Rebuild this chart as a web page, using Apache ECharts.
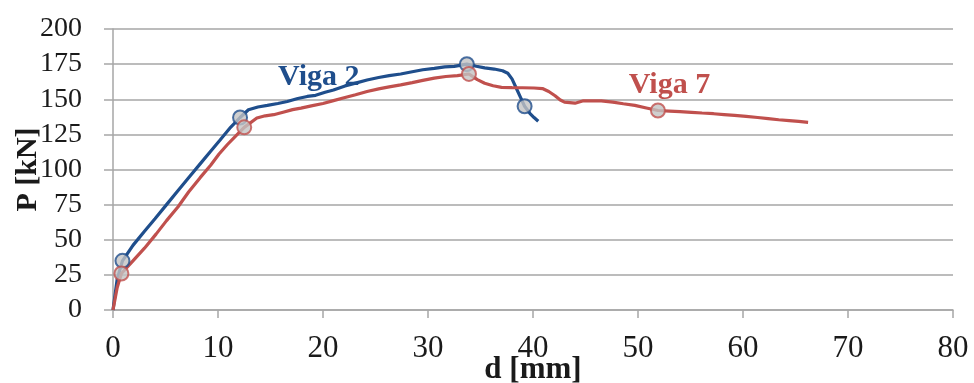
<!DOCTYPE html>
<html>
<head>
<meta charset="utf-8">
<script src="https://cdn.jsdelivr.net/npm/echarts@6/dist/echarts.min.js"></script>
<style>
  html, body { margin: 0; padding: 0; background: #fff; }
  #chart { width: 974px; height: 383px; }
</style>
</head>
<body>
<div id="chart"></div>
<script>
// d [mm], P [kN]
const viga2 = [
  [0, 0], [0.4, 22], [0.9, 35], [1.9, 46], [3.0, 56], [4.0, 65], [5.1, 75], [6.2, 85],
  [7.3, 95], [8.3, 104], [9.3, 113], [10.2, 121], [11.2, 130], [12.1, 137], [12.9, 142.5],
  [13.8, 144.5], [14.7, 145.6], [15.7, 147], [16.6, 148.4], [17.6, 150.5], [18.5, 152],
  [19.3, 152.8], [20.2, 155], [21.0, 156.6], [22.1, 159.5], [23.1, 161.5], [24.2, 163.7],
  [25.3, 165.5], [26.3, 166.8], [27.4, 168], [28.5, 169.6], [29.5, 171], [30.6, 172],
  [31.6, 173], [32.5, 173.4], [33.7, 175], [34.6, 173.5], [35.4, 172.3], [36.3, 171.5],
  [37.1, 170.3], [37.6, 168.5], [38.0, 164.5], [38.4, 158], [38.8, 151.5], [39.2, 145],
  [39.7, 140], [40.1, 137], [40.5, 134.3]
];
const viga7 = [
  [0, 0], [0.4, 16], [0.8, 26], [1.9, 35], [3.0, 44], [4.1, 54], [5.1, 63.6], [6.2, 73.5],
  [7.2, 84], [8.3, 94.2], [9.3, 103], [10.1, 111], [10.9, 117.8], [11.7, 124], [12.5, 130],
  [13.7, 136.6], [14.5, 138.2], [15.3, 139], [16.2, 140.8], [17.1, 142.6], [17.9, 143.7],
  [19.0, 145.5], [20.0, 147], [21.0, 149], [22.1, 151.2], [23.1, 153.2], [24.2, 155.5],
  [25.3, 157.4], [26.3, 158.8], [27.4, 160.2], [28.5, 161.8], [29.5, 163.4], [30.6, 165],
  [31.7, 166.2], [32.8, 166.8], [33.9, 168], [34.7, 164], [35.4, 161.4], [36.2, 159.6],
  [37.0, 158.5], [38.0, 158.3], [39.0, 158.2], [40.1, 158], [40.9, 157.6], [41.5, 155.5],
  [42.1, 152.5], [42.6, 149.5], [43.0, 148], [44.0, 147.2], [44.8, 148.9], [45.6, 148.9],
  [46.5, 148.9], [47.6, 148], [48.6, 146.8], [49.7, 145.6], [50.8, 143.8], [51.9, 142],
  [53.0, 141.6], [54.0, 141.2], [55.1, 140.7], [56.1, 140.2], [57.2, 139.7], [58.2, 139.1],
  [59.2, 138.5], [60.3, 137.8], [61.4, 137], [62.4, 136.2], [63.4, 135.4], [64.4, 134.8],
  [65.3, 134.2], [66.2, 133.6]
];
const viga2Marks = [[0.9, 35], [12.1, 137], [33.7, 175], [39.2, 145]];
const viga7Marks = [[0.8, 26], [12.5, 130], [33.9, 168], [51.9, 142]];
const seriesNames = ['Viga 2', 'Viga 7'];
const labelSpots = [[19.6, 165.5], [53.0, 160]];

const blue = '#1f4e8c';
const red = '#c0504d';
const gridGray = '#a6a6a6';
const serif = '"Liberation Serif", "Times New Roman", serif';

const myChart = echarts.init(document.getElementById('chart'));

function curve(name, data, color, spot) {
    return {
        name: name,
        type: 'line',
        data: data,
        showSymbol: false,
        smooth: false,
        lineStyle: { color: color, width: 3.2 },
        z: 2,
        markPoint: {
            symbol: 'circle',
            symbolSize: 0,
            silent: true,
            data: [{ coord: spot }],
            label: {
                show: true,
                position: 'inside',
                formatter: name,
                color: color,
                fontFamily: serif,
                fontWeight: 'bold',
                fontSize: 30
            }
        }
    };
}

function markers(name, data, color) {
    return {
        name: name + ' pts',
        type: 'scatter',
        data: data,
        symbol: 'circle',
        symbolSize: 14,
        itemStyle: { color: '#c3c3c3', borderColor: color, borderWidth: 2 },
        z: 3
    };
}

const options = {
    backgroundColor: '#fff',
    animation: false,
    grid: {
        left: 113, right: 21, top: 29, bottom: 73,
        containLabel: false,
        outerBoundsMode: 'none'
    },
    xAxis: {
        type: 'value',
        min: 0,
        max: 80,
        interval: 10,
        axisLine: { show: true, lineStyle: { color: gridGray, width: 1.5 } },
        axisTick: { show: true, length: 8, lineStyle: { color: gridGray, width: 1.5 } },
        splitLine: { show: false },
        axisLabel: { color: '#1a1a1a', fontFamily: serif, fontSize: 31, margin: 23 },
        name: 'd [mm]',
        nameLocation: 'middle',
        nameGap: 44,
        nameMoveOverlap: false,
        nameTextStyle: { color: '#1a1a1a', fontFamily: serif, fontWeight: 'bold', fontSize: 31 }
    },
    yAxis: {
        type: 'value',
        min: 0,
        max: 200,
        interval: 25,
        axisLine: { show: true, lineStyle: { color: gridGray, width: 1.5 } },
        axisTick: { show: true, length: 9, lineStyle: { color: gridGray, width: 1.5 } },
        splitLine: { show: true, lineStyle: { color: gridGray, width: 1.5 } },
        axisLabel: { color: '#1a1a1a', fontFamily: serif, fontSize: 28, margin: 31 },
        name: 'P [kN]',
        nameLocation: 'middle',
        nameGap: 70,
        nameMoveOverlap: false,
        nameTextStyle: { color: '#1a1a1a', fontFamily: serif, fontWeight: 'bold', fontSize: 30 }
    },
    series: [
        curve(seriesNames[0], viga2, blue, labelSpots[0]),
        curve(seriesNames[1], viga7, red, labelSpots[1]),
        markers(seriesNames[0], viga2Marks, blue),
        markers(seriesNames[1], viga7Marks, red)
    ]
};

myChart.setOption(options);
</script>
</body>
</html>
